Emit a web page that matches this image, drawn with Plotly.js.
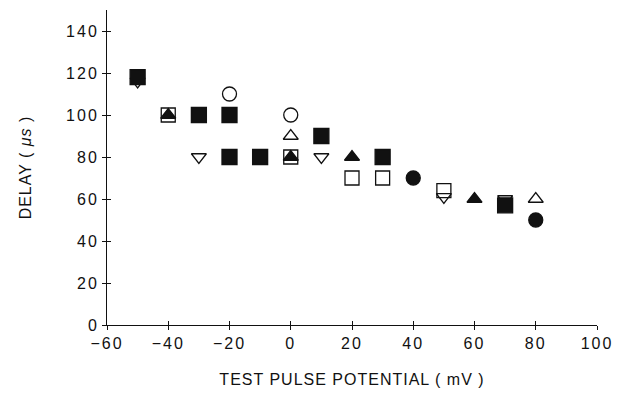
<!DOCTYPE html>
<html>
<head>
<meta charset="utf-8">
<script src="https://cdn.plot.ly/plotly-3.0.1.min.js"></script>
<style>
  html, body { margin: 0; padding: 0; background: #fff; }
  #chart { width: 626px; height: 396px; }
  /* airy spacing of the axis lettering */
  #chart .xtick text, #chart .ytick text { letter-spacing: 2px; }
  #chart .xtitle, #chart .ytitle { letter-spacing: 1px; }
</style>
</head>
<body>
<div id="chart"></div>
<script>
// Delay vs. test pulse potential, one array pair per marker style
const filledSquareX = [-50, -30, -20, -20, -10, 10, 30, 70];
const filledSquareY = [118, 100, 100, 80, 80, 90, 80, 57];

const openSquareX = [-40, 0, 20, 30, 50];
const openSquareY = [100, 80, 70, 70, 64];

const filledTriangleX = [-40, 0, 20, 60];
const filledTriangleY = [100, 80, 80, 60];

const openTriangleUpX = [0, 80];
const openTriangleUpY = [90, 60];

const openTriangleDownX = [-50, -30, 10, 50, 70];
const openTriangleDownY = [116, 80, 80, 61, 60];

const openCircleX = [-20, 0];
const openCircleY = [110, 100];

const filledCircleX = [40, 80];
const filledCircleY = [70, 50];

const xTicks = [-60, -40, -20, 0, 20, 40, 60, 80, 100];
const yTicks = [0, 20, 40, 60, 80, 100, 120, 140];

const ink = '#111';
const font = { family: 'Liberation Sans, Arial, sans-serif', size: 16, color: ink };

function series(x, y, symbol, size) {
  return {
    x: x, y: y, type: 'scatter', mode: 'markers', cliponaxis: false,
    marker: { symbol: symbol, size: size, color: ink, line: { color: ink, width: 1.3 } }
  };
}

const data = [
  series(openTriangleDownX, openTriangleDownY, 'triangle-down-open', 13),
  series(openSquareX, openSquareY, 'square-open', 14),
  series(filledSquareX, filledSquareY, 'square', 15),
  series(filledTriangleX, filledTriangleY, 'triangle-up', 13),
  series(openTriangleUpX, openTriangleUpY, 'triangle-up-open', 13),
  series(openCircleX, openCircleY, 'circle-open', 14),
  series(filledCircleX, filledCircleY, 'circle', 14)
];

const axisBase = {
  showgrid: false, zeroline: false, showline: true, linecolor: ink, linewidth: 1,
  tickcolor: ink, ticklen: 4, tickwidth: 1, tickfont: font
};

const layout = {
  width: 626, height: 396,
  margin: { l: 107, r: 29, t: 10, b: 71 },
  paper_bgcolor: '#fff', plot_bgcolor: '#fff',
  showlegend: false,
  font: font,
  xaxis: Object.assign({}, axisBase, {
    range: [-60, 100], tickvals: xTicks, ticks: 'outside',
    title: { text: 'TEST PULSE POTENTIAL ( mV )', font: font, standoff: 22 }
  }),
  yaxis: Object.assign({}, axisBase, {
    range: [0, 150], tickvals: yTicks, ticks: 'outside',
    title: { text: 'DELAY ( <i>μs</i> )', font: font, standoff: 36 }
  }),
  // inner halves of the crossing tick marks
  xaxis2: Object.assign({}, axisBase, {
    overlaying: 'x', matches: 'x', range: [-60, 100], tickvals: xTicks,
    ticks: 'inside', showticklabels: false, anchor: 'y'
  }),
  yaxis2: Object.assign({}, axisBase, {
    overlaying: 'y', matches: 'y', range: [0, 150], tickvals: yTicks,
    ticks: 'inside', showticklabels: false, anchor: 'x'
  })
};

// an empty trace so the inner-tick axes are drawn
data.push({ x: [], y: [], xaxis: 'x2', yaxis: 'y2', type: 'scatter', mode: 'markers', hoverinfo: 'skip' });

Plotly.newPlot('chart', data, layout, { displayModeBar: false, staticPlot: true });
</script>
</body>
</html>
